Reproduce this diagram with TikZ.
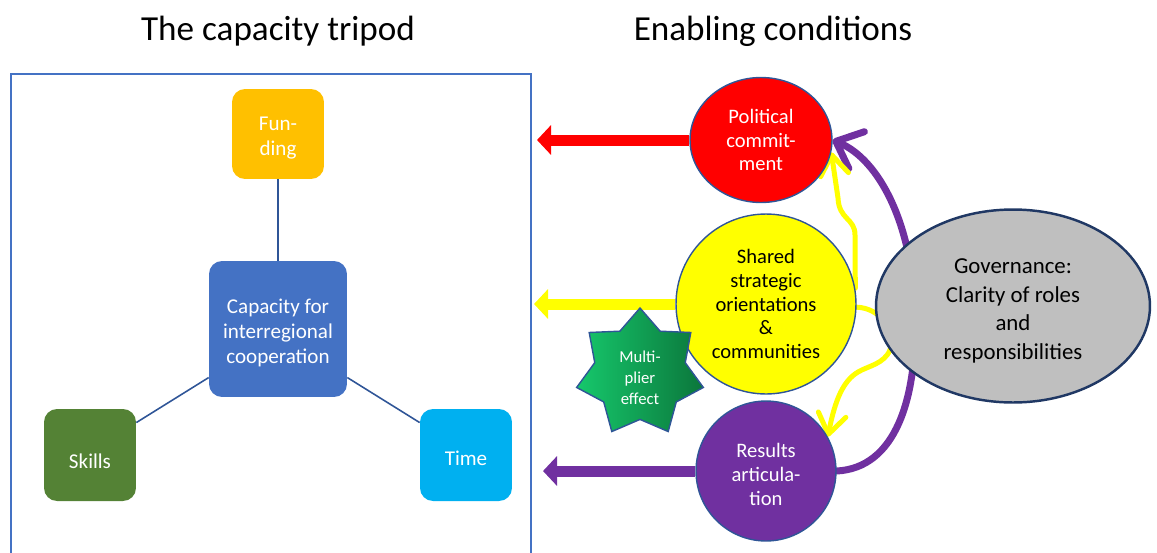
\documentclass[tikz,border=0pt]{standalone}
\usepackage{fontspec}
\setmainfont{Carlito}
\usetikzlibrary{shapes.geometric, arrows.meta, backgrounds, calc}

\definecolor{capRed}{HTML}{FF0000}
\definecolor{capYellow}{HTML}{FFFF00}
\definecolor{capPurple}{HTML}{7030A0}
\definecolor{boxBlue}{HTML}{4472C4}
\definecolor{boxGold}{HTML}{FFC000}
\definecolor{boxGreen}{HTML}{548235}
\definecolor{boxCyan}{HTML}{00B0F0}
\definecolor{govGrey}{HTML}{BFBFBF}
\definecolor{edgeBlue}{HTML}{2F5597}
\definecolor{navy}{HTML}{203864}
\definecolor{starLight}{HTML}{16C86C}
\definecolor{starDark}{HTML}{0B763B}

\tikzset{
	pillar/.style={rounded corners=0.26cm, inner sep=0pt, text=white, align=center,
		font=\fontsize{12}{14.2}\selectfont},
	cond/.style={ellipse, draw=edgeBlue, line width=0.8pt, inner sep=0pt, align=center,
		font=\fontsize{11.7}{13.6}\selectfont},
	tripodline/.style={draw=edgeBlue, line width=0.9pt},
	fatarrow/.style={line width=0.22cm, -{Triangle[length=0.28cm, width=0.58cm]}},
	feedback/.style={line width=0.1cm, line cap=round,
		-{Straight Barb[length=0.4cm, width=0.56cm, round]}},
	heading/.style={font=\fontsize{20}{24}\selectfont},
}

\begin{document}
\begin{tikzpicture}[x=0.02cm, y=-0.02cm]
	\def\side{1.84cm}

	\useasboundingbox (0,0) rectangle (1157,552);

	\node[heading] (tripodTitle) at (278,31) {The capacity tripod};
	\node[heading] (condTitle) at (773,31) {Enabling conditions};

	\draw[boxBlue, line width=1.1pt] (11,74) rectangle (531,600);

	\node[pillar, fill=boxGold, minimum width=\side, minimum height=1.8cm, text height=26.9pt] (funding) at (278,134) {Fun-\\ding};
	\node[pillar, fill=boxBlue, minimum width=2.76cm, minimum height=2.72cm, text height=41.2pt] (hub) at (278,329) {Capacity for\\interregional\\cooperation};
	\node[pillar, fill=boxGreen, minimum width=\side, minimum height=\side, text height=15.8pt, text depth=0pt] (skills) at (90,455) {Skills};
	\node[pillar, fill=boxCyan, minimum width=\side, minimum height=\side, text height=11.4pt, text depth=0pt] (time) at (466,455) {Time};

	\node[cond, fill=capRed, text=white, minimum width=2.84cm, minimum height=2.5cm] (political) at (761,140) {Political\\commit-\\ment};
	\node[cond, fill=capYellow, minimum size=3.6cm] (shared) at (766,304) {Shared\\strategic\\orientations\\\&\\communities};
	\node[cond, fill=capPurple, text=white, minimum size=2.8cm, text height=38.8pt] (results) at (766,471) {Results\\articula-\\tion};
	\node[cond, fill=govGrey, draw=navy, line width=1.4pt, minimum width=5.48cm, minimum height=3.86cm, text height=62.8pt,
		font=\fontsize{13}{16.3}\selectfont] (governance) at (1013,306) {Governance:\\Clarity of roles\\and\\responsibilities};

	\node[star, star points=7, star point ratio=1.4, minimum size=2.6cm, inner sep=0pt,
		draw=edgeBlue, line width=0.8pt, left color=starLight, right color=starDark,
		text height=36.2pt, text depth=-1.2pt,
		text=white, align=center, font=\fontsize{9.5}{11.9}\selectfont] (multiplier) at (640,373) {Multi-\\plier\\effect};

	\coordinate (politicalEnd) at (537,140);
	\coordinate (sharedEnd) at (534,304);
	\coordinate (resultsEnd) at (543,471);

	\begin{scope}[on background layer]
		\draw[tripodline] (funding) -- (hub);
		\draw[tripodline] (hub.215) -- (skills.35);
		\draw[tripodline] (hub.-35) -- (time.145);

		\foreach \n/\c in {political/capRed, shared/capYellow, results/capPurple}
		{
			\draw[fatarrow, \c] (\n.west) -- (\n End);
		}

		\draw[feedback, capPurple, line width=0.14cm, -{Straight Barb[length=0.45cm, width=0.8cm, round]}]
			(results.east) .. controls (895,468) and (918,400) .. (915,310)
			.. controls (912,225) and (880,160) .. (political.east);
		\draw[feedback, capYellow] (shared.10) -- (855,235)
			.. controls (855,218) and (839,220) .. (838,198) -- (political.-10);
		\draw[feedback, capYellow] (shared.-2) .. controls (880,308) and (896,330) .. (890,350)
			.. controls (884,364) and (868,366) .. (858,372)
			.. controls (843,381) and (835,400) .. (results.29);
	\end{scope}
\end{tikzpicture}
\end{document}
